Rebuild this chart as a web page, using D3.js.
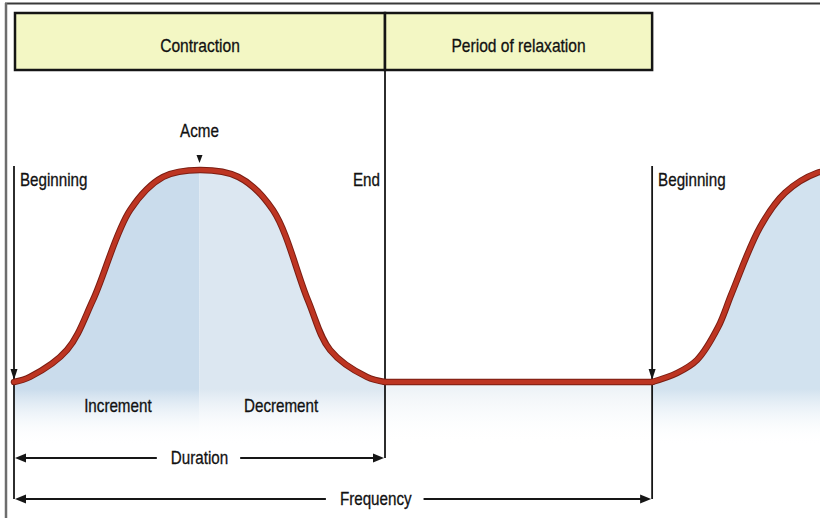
<!DOCTYPE html>
<html>
<head>
<meta charset="utf-8">
<script src="https://cdn.jsdelivr.net/npm/d3@7"></script>
<style>
     body { margin: 0; background: #fff; }
     text { font-family: "Liberation Sans", Arial, sans-serif; fill: #111; stroke: #111; stroke-width: 0.3; }
</style>
</head>
<body>
<div id="chart"></div>
<script>
// muscle twitch trace: time as % of one contraction, force as fraction of acme
const traceTime  = [0, 4.3, 14.3, 21.3, 31.3, 40.2, 50.1, 60.5, 69.8, 79.2, 85.2, 95.1, 100,
                    172, 178.7, 184.1, 189.8, 193.5, 201.1, 207.8, 216.4, 222];
const traceForce = [0, .024, .151, .387, .811, .967, 1, .967, .811, .387, .151, .024, 0,
                    0, .042, .104, .259, .420, .731, .892, .986, 1];

const phaseNames  = ["Contraction", "Period of relaxation"];
const phaseBounds = [0, 100, 172];

const eventNames = ["Beginning", "End", "Beginning"];
const eventTimes = [0, 100, 172];
const acmeTime = 50;

const halfNames = ["Increment", "Decrement"];
const halfTimes = [28, 72];

const spanNames  = ["Duration", "Frequency"];
const spanEnds   = [100, 172];
const spanLabelT = [50, 97.5];

const Width = 820, Height = 518;
const Squeeze = 0.82; // condensed lettering of the original

const svg = d3.select("#chart")
     .append("svg")
          .attr("width", Width)
          .attr("height", Height)

const x = d3.scaleLinear().domain([0, 100]).range([14, 385]);
const y = d3.scaleLinear().domain([0, 1]).range([382, 170]);

const trace = traceTime.map((t, i) => ({t: t, f: traceForce[i]}));
// split into twitch, rest, next twitch so the flat part stays flat
const pieces = [
     trace.filter(d => d.t <= 100),
     trace.filter(d => d.t >= 100 && d.t <= 172),
     trace.filter(d => d.t >= 172)
];

// squeeze a text horizontally, returns the new width
function narrow(sel) {
     const w = sel.node().getComputedTextLength() * Squeeze;
     sel.attr("textLength", w).attr("lengthAdjust", "spacingAndGlyphs");
     return w;
}

// frame of the scanned figure
svg.append("line").attr("x1", 5).attr("x2", Width).attr("y1", 3.5).attr("y2", 3.5)
     .attr("stroke", "#3a3a3a").attr("stroke-width", 2)
svg.append("line").attr("x1", 6).attr("x2", 6).attr("y1", 3).attr("y2", Height)
     .attr("stroke", "#6d6d6d").attr("stroke-width", 2.5)

// fills under the trace, fading out below the baseline
const defs = svg.append("defs");
const segments = [
     {a: 0, b: acmeTime, col: "#cadcec"},
     {a: acmeTime, b: 100, col: "#dce7f1"},
     {a: 100, b: 172, col: "#eef3f7"},
     {a: 172, b: 240, col: "#d2e2ef"}
];
const fillBottom = 445;

segments.forEach((s, i) => {
     const g = defs.append("linearGradient")
          .attr("id", "fade" + i)
          .attr("gradientUnits", "userSpaceOnUse")
          .attr("x1", 0).attr("x2", 0).attr("y1", 165).attr("y2", fillBottom)
     g.append("stop").attr("offset", 0).attr("stop-color", s.col)
     g.append("stop").attr("offset", 0.8).attr("stop-color", s.col)
     g.append("stop").attr("offset", 1).attr("stop-color", "#fff").attr("stop-opacity", 0)

     defs.append("clipPath").attr("id", "clip" + i)
          .append("rect")
               .attr("x", x(s.a)).attr("y", 0)
               .attr("width", x(s.b) - x(s.a)).attr("height", Height)
});

const smooth = d3.curveCatmullRom.alpha(0.5);

const area = d3.area()
     .x(d => x(d.t))
     .y0(fillBottom)
     .y1(d => y(d.f))
     .curve(smooth)

segments.forEach((s, i) => {
     const g = svg.append("g").attr("clip-path", `url(#clip${i})`);
     pieces.forEach(p => {
          g.append("path")
               .datum(p)
               .attr("d", area)
               .attr("fill", `url(#fade${i})`)
     });
});

// phase header boxes
phaseNames.forEach((name, i) => {
     const x0 = x(phaseBounds[i]) + (i === 0 ? 1 : 0);
     const x1 = x(phaseBounds[i + 1]);
     svg.append("rect")
          .attr("x", x0).attr("y", 13)
          .attr("width", x1 - x0).attr("height", 57)
          .attr("fill", "#f3f7c4")
          .attr("stroke", "#151515")
          .attr("stroke-width", 2.5)
     svg.append("text")
          .attr("x", (x0 + x1) / 2)
          .attr("y", 52)
          .attr("text-anchor", "middle")
          .attr("font-size", 19)
          .text(name)
          .call(narrow)
});

// helpers for arrowheads
const headDown = (cx, tip) => `M${cx - 3.5},${tip - 11}L${cx + 3.5},${tip - 11}L${cx},${tip}Z`;
const headLeft = (tip, cy) => `M${tip},${cy}L${tip + 11},${cy - 4.5}L${tip + 11},${cy + 4.5}Z`;
const headRight = (tip, cy) => `M${tip},${cy}L${tip - 11},${cy - 4.5}L${tip - 11},${cy + 4.5}Z`;

const spanY = [458, 499];

// event markers: vertical lines
eventTimes.forEach((t, i) => {
     const ex = x(t);
     const top = i === 1 ? 13 : 166;
     const bottom = i === 1 ? spanY[0] : spanY[1];
     svg.append("line")
          .attr("x1", ex).attr("x2", ex).attr("y1", top).attr("y2", bottom)
          .attr("stroke", "#161616").attr("stroke-width", 1.8)
     if (i !== 1) {
          svg.append("path").attr("d", headDown(ex, y(0) - 2)).attr("fill", "#161616")
     }
     svg.append("text")
          .attr("x", i === 1 ? ex - 5 : ex + 6)
          .attr("y", 186)
          .attr("text-anchor", i === 1 ? "end" : "start")
          .attr("font-size", 18.5)
          .text(eventNames[i])
          .call(narrow)
});

// the trace itself
const line = d3.line()
     .x(d => x(d.t))
     .y(d => y(d.f))
     .curve(smooth)

const traceLayer = (color, w) => {
     pieces.forEach(p => {
          svg.append("path")
               .datum(p)
               .attr("d", line)
               .attr("fill", "none")
               .attr("stroke", color)
               .attr("stroke-width", w)
               .attr("stroke-linecap", "round")
     });
};
traceLayer("#7a1d12", 6.5);
traceLayer("#bd3522", 4.5);

// acme
svg.append("text")
     .attr("x", x(acmeTime))
     .attr("y", 137)
     .attr("text-anchor", "middle")
     .attr("font-size", 18.5)
     .text("Acme")
     .call(narrow)
svg.append("path")
     .attr("d", `M${x(acmeTime) - 3},155L${x(acmeTime) + 3},155L${x(acmeTime)},163Z`)
     .attr("fill", "#161616")

halfNames.forEach((name, i) => {
     svg.append("text")
          .attr("x", x(halfTimes[i]))
          .attr("y", 412)
          .attr("text-anchor", "middle")
          .attr("font-size", 18.5)
          .text(name)
          .call(narrow)
});

// duration / frequency spans
spanNames.forEach((name, i) => {
     const cy = spanY[i];
     const lx = x(0) + 1;
     const rx = x(spanEnds[i]) - 1;
     const cx = x(spanLabelT[i]);
     const label = svg.append("text")
          .attr("x", cx)
          .attr("y", cy)
          .attr("dy", "0.35em")
          .attr("text-anchor", "middle")
          .attr("font-size", 18.5)
          .text(name)
     const half = narrow(label) / 2;
     svg.append("line")
          .attr("x1", lx + 6).attr("x2", cx - half - 14).attr("y1", cy).attr("y2", cy)
          .attr("stroke", "#161616").attr("stroke-width", 2)
     svg.append("line")
          .attr("x1", cx + half + 12).attr("x2", rx - 6).attr("y1", cy).attr("y2", cy)
          .attr("stroke", "#161616").attr("stroke-width", 2)
     svg.append("path").attr("d", headLeft(lx, cy)).attr("fill", "#161616")
     svg.append("path").attr("d", headRight(rx, cy)).attr("fill", "#161616")
});
</script>
</body>
</html>
